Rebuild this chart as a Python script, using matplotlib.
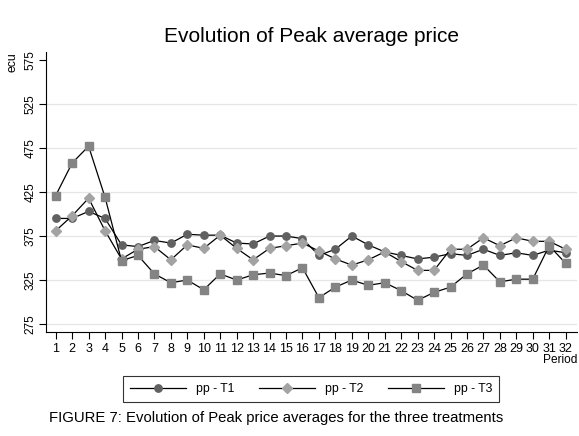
import matplotlib
matplotlib.use("Agg")
import matplotlib.pyplot as plt
import numpy as np

plt.rcParams['font.family'] = ['Liberation Sans', 'DejaVu Sans']

periods = list(range(1, 33))
pp_t1 = [395, 395, 403, 395, 365, 363, 370, 367, 377, 376, 376, 367, 366, 375, 375, 372,
         353, 360, 375, 365, 357, 353, 349, 351, 355, 353, 360, 353, 356, 353, 359, 356]
pp_t2 = [381, 398, 418, 381, 349, 360, 363, 348, 365, 361, 376, 361, 348, 361, 364, 367,
         358, 349, 342, 348, 357, 346, 336, 336, 360, 360, 373, 364, 373, 369, 369, 360]
pp_t3 = [421, 458, 477, 419, 347, 353, 332, 322, 325, 314, 332, 325, 331, 333, 330, 339,
         305, 317, 325, 319, 322, 313, 302, 311, 317, 332, 342, 323, 326, 326, 364, 344]
series_labels = ["pp - T1", "pp - T2", "pp - T3"]
y_ticks = [275, 325, 375, 425, 475, 525, 575]

fig = plt.figure(figsize=(5.79, 4.36), dpi=100)
ax = fig.add_axes([46/579, 1-332/436, (577-46)/579, (332-51.7)/436])

styles = [
    dict(marker='o', color='black', markerfacecolor='#616161', markeredgecolor='#616161', markersize=5.3),
    dict(marker='D', color='black', markerfacecolor='#a3a3a3', markeredgecolor='#a3a3a3', markersize=5.3),
    dict(marker='s', color='black', markerfacecolor='#848484', markeredgecolor='#848484', markersize=5.8),
]
handles = []
for vals, lab, st in zip([pp_t1, pp_t2, pp_t3], series_labels, styles):
    h, = ax.plot(periods, vals, linewidth=0.9, label=lab, **st)
    handles.append(h)

ax.set_xlim(0.41, 32.69)
ax.set_ylim(266, 584.4)
ax.set_xticks(periods)
ax.set_xticklabels([str(p) for p in periods], fontsize=9)
ax.set_yticks(y_ticks)
ax.set_yticklabels([str(v) for v in y_ticks], fontsize=8.5, rotation=90, va='center')
ax.tick_params(axis='both', direction='out', length=5, width=0.8, color='black', pad=2)
ax.tick_params(axis='x', pad=3)

ax.set_axisbelow(True)
ax.yaxis.grid(True, color='#e6e6e6', linewidth=0.9)
for gl, v in zip(ax.get_ygridlines(), y_ticks):
    if v == 575:
        gl.set_visible(False)

ax.spines['top'].set_visible(False)
ax.spines['right'].set_visible(False)
ax.spines['left'].set_linewidth(0.8)
ax.spines['bottom'].set_linewidth(0.8)

fig.text(312/579, 1-36/436, "Evolution of Peak average price", fontsize=15,
         ha='center', va='center')
fig.text(13/579, 1-62/436, "ecu", fontsize=8.8, rotation=90, ha='center', va='center')
fig.text(577/579, 1-360/436, "Period", fontsize=8.6, ha='right', va='center')

leg = fig.legend(handles=handles, labels=series_labels, loc='center',
                 bbox_to_anchor=(311/579, 1-389/436), ncol=3, fontsize=8.8,
                 frameon=True, fancybox=False, edgecolor='black', handlelength=4.6,
                 handletextpad=0.8, columnspacing=2.0, borderpad=0.55)
leg.get_frame().set_linewidth(0.8)

fig.text(49/579, 1-418/436, "FIGURE 7: Evolution of Peak price averages for the three treatments",
         fontsize=10.75, ha='left', va='center')

fig.savefig("out.png", dpi=100)
